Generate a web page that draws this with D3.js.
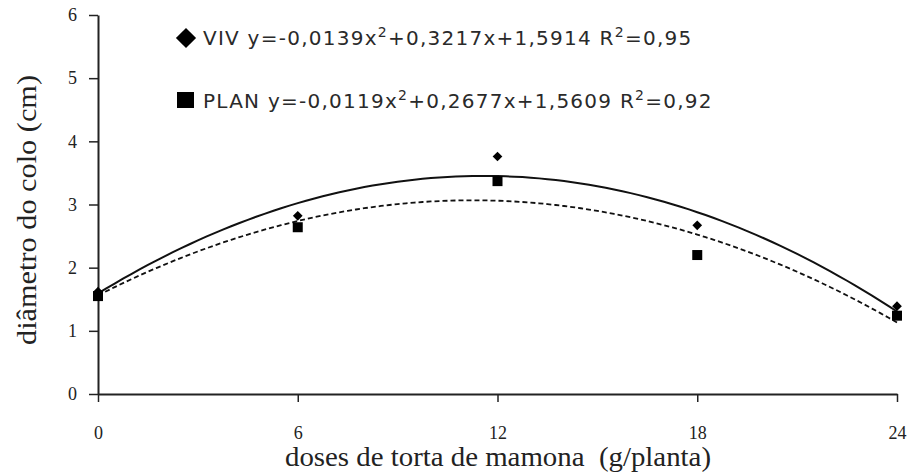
<!DOCTYPE html>
<html>
<head>
<meta charset="utf-8">
<script src="https://cdn.jsdelivr.net/npm/d3@7"></script>
<style>
  body { margin: 0; background: #fff; }
  svg { display: block; }
</style>
</head>
<body>
<script>
// doses (g/planta)
const doses = [0, 6, 12, 18, 24];
const viv = [1.62, 2.82, 3.76, 2.67, 1.39];
const plan = [1.55, 2.64, 3.37, 2.20, 1.24];
// trend coefficients [a, b, c] for a*x^2 + b*x + c
const vivCoef = [-0.0139, 0.3217, 1.5914];
const planCoef = [-0.0119, 0.2677, 1.5609];
const xTicks = [0, 6, 12, 18, 24];
const yTicks = [0, 1, 2, 3, 4, 5, 6];

const dims = { w: 913, h: 474 };
const svg = d3.select("body").append("svg")
  .attr("width", dims.w).attr("height", dims.h);

const x = d3.scaleLinear().domain([0, 24]).range([98, 897]);
const y = d3.scaleLinear().domain([0, 6]).range([394, 15]);

const serif = "'Liberation Serif', 'Times New Roman', serif";

// axes
const xAxis = svg.append("g")
  .attr("transform", `translate(0,${y(0)})`)
  .call(d3.axisBottom(x).tickValues(xTicks).tickFormat(d3.format("d"))
    .tickSize(8).tickSizeOuter(0).tickPadding(24));
const yAxis = svg.append("g")
  .attr("transform", `translate(${x(0)},0)`)
  .call(d3.axisLeft(y).tickValues(yTicks).tickFormat(d3.format("d"))
    .tickSize(9).tickSizeOuter(0).tickPadding(12));

[xAxis, yAxis].forEach(a => {
  a.select(".domain").attr("stroke", "#222").attr("stroke-width", 2);
  a.selectAll(".tick line").attr("stroke", "#222").attr("stroke-width", 1.5);
  a.selectAll("text").attr("font-family", serif).attr("font-size", 18).attr("fill", "#222");
});

// trend lines
const pts = coef => d3.range(0, 24.01, 0.25).map(v => [v, coef[0]*v*v + coef[1]*v + coef[2]]);
const line = d3.line().x(d => x(d[0])).y(d => y(d[1]));

svg.append("path").datum(pts(vivCoef))
  .attr("d", line).attr("fill", "none").attr("stroke", "#111").attr("stroke-width", 2);
svg.append("path").datum(pts(planCoef))
  .attr("d", line).attr("fill", "none").attr("stroke", "#111").attr("stroke-width", 1.8)
  .attr("stroke-dasharray", "5,3");

// points
const diamond = d3.symbol().type(d3.symbolDiamond2);
svg.append("g").selectAll("path")
  .data(doses.map((d, i) => [d, viv[i]]))
  .join("path")
  .attr("transform", d => `translate(${x(d[0])},${y(d[1])})`)
  .attr("d", diamond.size(60)())
  .attr("fill", "#000");

svg.append("g").selectAll("rect")
  .data(doses.map((d, i) => [d, plan[i]]))
  .join("rect")
  .attr("x", d => x(d[0]) - 5).attr("y", d => y(d[1]) - 5)
  .attr("width", 10).attr("height", 10)
  .attr("fill", "#000");

// legend
const legend = svg.append("g").attr("font-family", "'DejaVu Sans', Verdana, sans-serif")
  .attr("font-size", 20).attr("fill", "#2a2a2a").attr("letter-spacing", 1.25);

legend.append("path")
  .attr("transform", "translate(186,38)")
  .attr("d", d3.symbol().type(d3.symbolDiamond2).size(260)())
  .attr("fill", "#000");
legend.append("rect").attr("x", 177).attr("y", 92).attr("width", 17).attr("height", 16).attr("fill", "#000");

const legendRows = [
  { y: 45, parts: ["VIV y=-0,0139x", "2", "+0,3217x+1,5914 R", "2", "=0,95"] },
  { y: 108, parts: ["PLAN y=-0,0119x", "2", "+0,2677x+1,5609 R", "2", "=0,92"] }
];
legendRows.forEach(r => {
  const t = legend.append("text").attr("x", 203).attr("y", r.y);
  r.parts.forEach((p, i) => {
    const sup = i % 2 === 1;
    t.append("tspan")
      .attr("dy", sup ? -8 : (i > 0 ? 8 : 0))
      .attr("font-size", sup ? 14 : 20)
      .text(p);
  });
});

// axis titles
svg.append("text")
  .attr("x", 498).attr("y", 466)
  .attr("text-anchor", "middle")
  .attr("font-family", serif).attr("font-size", 27).attr("fill", "#222")
  .attr("textLength", 426).attr("lengthAdjust", "spacingAndGlyphs")
  .style("white-space", "pre")
  .text("doses de torta de mamona  (g/planta)");

svg.append("text")
  .attr("transform", "translate(36,210) rotate(-90)")
  .attr("text-anchor", "middle")
  .attr("font-family", serif).attr("font-size", 27).attr("fill", "#222")
  .attr("textLength", 270).attr("lengthAdjust", "spacingAndGlyphs")
  .text("diâmetro do colo (cm)");
</script>
</body>
</html>
